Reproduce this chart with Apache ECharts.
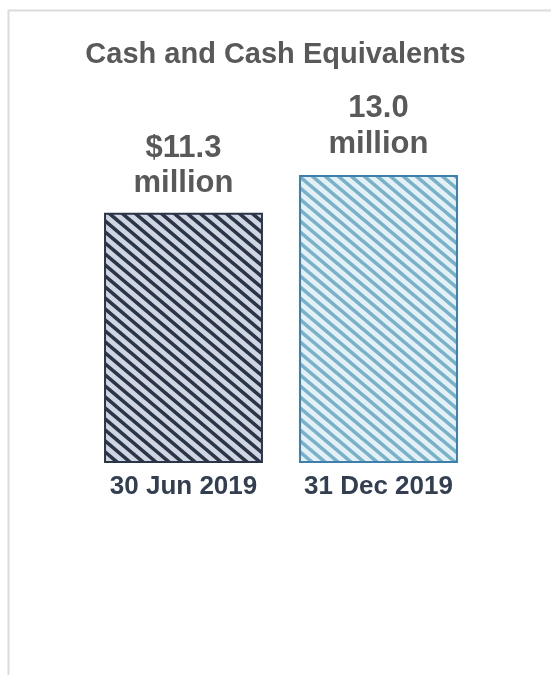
<!DOCTYPE html>
<html>
<head>
<meta charset="utf-8">
<script src="https://cdn.jsdelivr.net/npm/echarts@6/dist/echarts.min.js"></script>
<style>
  html, body { margin: 0; padding: 0; background: #ffffff; }
  #chart { width: 551px; height: 675px; }
</style>
</head>
<body>
<div id="chart"></div>
<script>
// Period-end dates and cash balances (USD millions)
const categories = ['30 Jun 2019', '31 Dec 2019'];
const cashValues = [11.3, 13.0];
const valueLabels = ['$11.3\nmillion', '13.0\nmillion'];

// Diagonal hatch tile: stripes running top-left to bottom-right.
// Lines overrun the tile so neighbouring tiles join without seams.
function hatch(bg, stripe) {
  const step = 13, rise = 11;
  const w = step * 2, h = rise * 2;
  const c = document.createElement('canvas');
  c.width = w; c.height = h;
  const ctx = c.getContext('2d');
  ctx.fillStyle = bg;
  ctx.fillRect(0, 0, w, h);
  ctx.strokeStyle = stripe;
  ctx.lineWidth = 3.6;
  ctx.lineCap = 'butt';
  ctx.beginPath();
  for (let x0 = -3 * w; x0 <= 3 * w; x0 += step) {
    ctx.moveTo(x0 - w, -h);
    ctx.lineTo(x0 + 2 * w, 2 * h);
  }
  ctx.stroke();
  return c;
}

const styles = [
  { bg: '#cfd5e1', stripe: '#2b3548', border: '#2b3548', lineHeight: 35, distance: 12 },
  { bg: '#e4f0f5', stripe: '#78b2c8', border: '#3e7fab', lineHeight: 36, distance: 13 }
];

const chart = echarts.init(document.getElementById('chart'));
chart.setOption({
  animation: false,
  backgroundColor: '#ffffff',
  graphic: [{
    type: 'rect',
    shape: { x: 8.5, y: 10.5, width: 700, height: 800 },
    style: { fill: 'none', stroke: '#dcdcdc', lineWidth: 2 },
    silent: true
  }],
  title: {
    text: 'Cash and Cash Equivalents',
    left: 'center', top: 35,
    padding: [5, 3, 5, 7],
    textStyle: { fontFamily: 'Liberation Sans', fontWeight: 'bold', fontSize: 29, color: '#595959' }
  },
  grid: { left: 86, width: 390, top: 175, height: 288 },
  xAxis: {
    type: 'category',
    data: categories,
    axisLine: { show: false },
    axisTick: { show: false },
    axisLabel: {
      margin: 11,
      fontFamily: 'Liberation Sans', fontWeight: 'bold', fontSize: 26, color: '#333f50'
    }
  },
  yAxis: { type: 'value', min: 0, max: 13, show: false, splitLine: { show: false } },
  series: [{
    type: 'bar',
    barCategoryGap: '18.5%',
    data: cashValues.map((v, i) => ({
      value: v,
      itemStyle: {
        color: { image: hatch(styles[i].bg, styles[i].stripe), repeat: 'repeat' },
        borderColor: styles[i].border,
        borderWidth: 2
      },
      label: {
        formatter: valueLabels[i],
        lineHeight: styles[i].lineHeight,
        distance: styles[i].distance
      }
    })),
    label: {
      show: true,
      position: 'top',
      fontFamily: 'Liberation Sans', fontWeight: 'bold', fontSize: 31, color: '#595959'
    }
  }]
});
</script>
</body>
</html>
